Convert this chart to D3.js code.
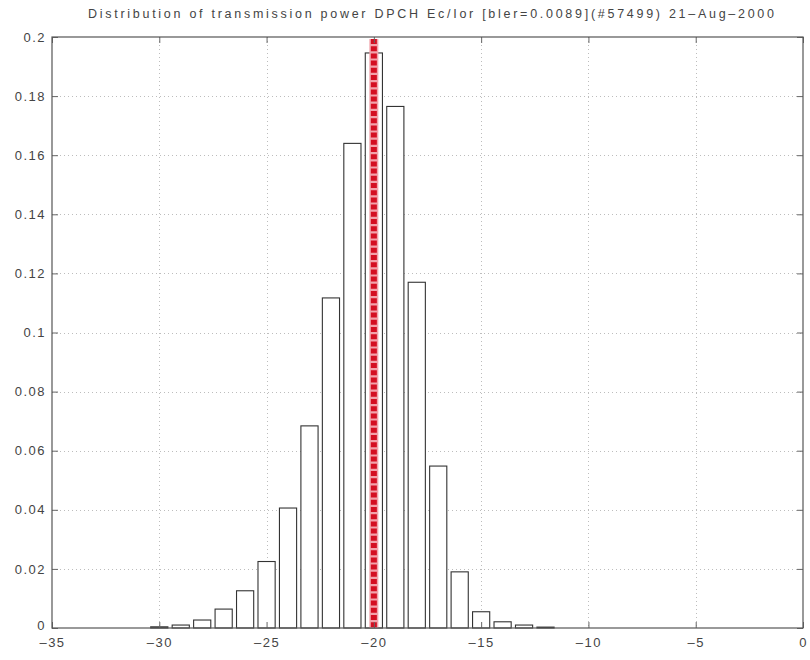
<!DOCTYPE html>
<html>
<head>
<meta charset="utf-8">
<script src="https://cdn.jsdelivr.net/npm/d3@7"></script>
<style>
  html, body { margin: 0; padding: 0; background: #fff; }
  svg { display: block; }
  .tick text { font-family: "Liberation Sans", Arial, sans-serif; font-size: 13px; fill: #444; letter-spacing: 1.5px; }
</style>
</head>
<body>
<svg id="chart" width="810" height="660"></svg>
<script>
// ---- data ----
const titleText = "Distribution of transmission power DPCH Ec/Ior [bler=0.0089](#57499) 21\u2013Aug\u20132000";
const categories = [-30, -29, -28, -27, -26, -25, -24, -23, -22, -21, -20, -19, -18, -17, -16, -15, -14, -13, -12];
const values = [0.0004, 0.001, 0.0027, 0.0064, 0.0126, 0.0225, 0.0406, 0.0684, 0.1117, 0.164, 0.1946, 0.1765, 0.117, 0.0548, 0.019, 0.0055, 0.0021, 0.001, 0.0003];
const xTicks = [-35, -30, -25, -20, -15, -10, -5, 0];
const xTickLabels = ["\u201335", "\u201330", "\u201325", "\u201320", "\u201315", "\u201310", "\u20135", "0"];
const yTicks = [0, 0.02, 0.04, 0.06, 0.08, 0.1, 0.12, 0.14, 0.16, 0.18, 0.2];
const yTickLabels = ["0", "0.02", "0.04", "0.06", "0.08", "0.1", "0.12", "0.14", "0.16", "0.18", "0.2"];
const markerX = [-20];

// ---- layout ----
const svg = d3.select("#chart");
const L = 52, R = 803, T = 37, B = 628;
const x = d3.scaleLinear().domain([-35, 0]).range([L, R]);
const y = d3.scaleLinear().domain([0, 0.2]).range([B, T]);
const binW = x(1) - x(0);
const barW = binW * 0.8;

// grid
const grid = svg.append("g").attr("stroke", "#bdbdbd").attr("stroke-width", 1).attr("stroke-dasharray", "1 3");
grid.selectAll("line.vx").data(xTicks.slice(1, -1)).join("line")
  .attr("x1", d => Math.round(x(d)) + 0.5).attr("x2", d => Math.round(x(d)) + 0.5)
  .attr("y1", T).attr("y2", B);
grid.selectAll("line.hy").data(yTicks.slice(1, -1)).join("line")
  .attr("x1", L).attr("x2", R)
  .attr("y1", d => Math.round(y(d)) + 0.5).attr("y2", d => Math.round(y(d)) + 0.5);

// bars
svg.append("g").selectAll("rect").data(categories).join("rect")
  .attr("x", (d) => x(d) - barW / 2)
  .attr("width", barW)
  .attr("y", (d, i) => y(values[i]))
  .attr("height", (d, i) => B - y(values[i]))
  .attr("fill", "#fff")
  .attr("stroke", "#333")
  .attr("stroke-width", 1.1);

// red marker line
const mk = svg.append("g");
mk.selectAll("line.bg").data(markerX).join("line")
  .attr("x1", d => x(d)).attr("x2", d => x(d))
  .attr("y1", T + 2).attr("y2", B)
  .attr("stroke", "#f2a3ab").attr("stroke-width", 9);
mk.selectAll("line.fg").data(markerX).join("line")
  .attr("x1", d => x(d)).attr("x2", d => x(d))
  .attr("y1", T + 2).attr("y2", B)
  .attr("stroke", "#d40f22").attr("stroke-width", 6)
  .attr("stroke-dasharray", "5 2.2");

// axes
const axL = d3.axisLeft(y).tickValues(yTicks).tickFormat((d, i) => yTickLabels[i]).tickSize(-6).tickPadding(6);
const axR = d3.axisRight(y).tickValues(yTicks).tickFormat("").tickSize(-6);
const axB = d3.axisBottom(x).tickValues(xTicks).tickFormat((d, i) => xTickLabels[i]).tickSize(-6).tickPadding(10);
const axT = d3.axisTop(x).tickValues(xTicks).tickFormat("").tickSize(-6);

function styleAx(g) {
  g.select(".domain").remove();
  g.selectAll(".tick line").attr("stroke", "#666");
}
const gL = svg.append("g").attr("transform", `translate(${L},0)`).call(axL).call(styleAx);
// lift the "0" label slightly, as in the reference, so it clears the x labels
gL.selectAll(".tick text").filter(d => d === 0).attr("dy", "0.1em");
svg.append("g").attr("transform", `translate(${R},0)`).call(axR).call(styleAx);
svg.append("g").attr("transform", `translate(0,${B})`).call(axB).call(styleAx);
svg.append("g").attr("transform", `translate(0,${T})`).call(axT).call(styleAx);

// box
svg.append("rect").attr("x", L).attr("y", T).attr("width", R - L).attr("height", B - T)
  .attr("fill", "none").attr("stroke", "#555").attr("stroke-width", 1.2);

// title
svg.append("text")
  .attr("x", 431).attr("y", 18)
  .attr("text-anchor", "middle")
  .attr("font-family", "Liberation Sans, Arial, sans-serif")
  .attr("font-size", 12.5)
  .attr("fill", "#444")
  .attr("textLength", 686)
  .attr("lengthAdjust", "spacing")
  .text(titleText);
</script>
</body>
</html>
